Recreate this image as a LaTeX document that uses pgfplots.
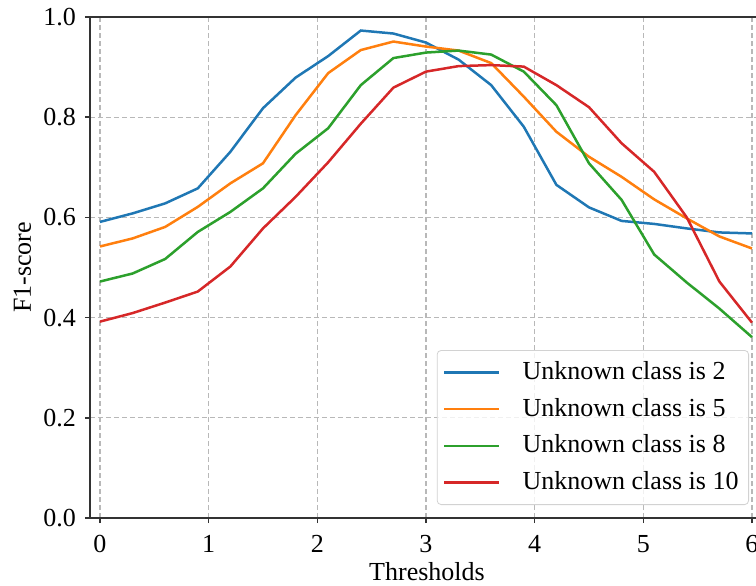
\documentclass[border=0pt]{standalone}
\usepackage{fontspec}
\setmainfont{Liberation Serif}
\usepackage{pgfplots}
\pgfplotsset{compat=1.18}

\definecolor{tabblue}{HTML}{1F77B4}
\definecolor{taborange}{HTML}{FF7F0E}
\definecolor{tabgreen}{HTML}{2CA02C}
\definecolor{tabred}{HTML}{D62728}
\definecolor{gridgray}{HTML}{B8B8B8}
\definecolor{spine}{HTML}{333333}

\begin{document}
\fontsize{13}{15.6}\selectfont
\begin{tikzpicture}
\begin{axis}[
  scale only axis,
  width=333pt, height=250.5pt,
  xmin=-0.092, xmax=6.037,
  ymin=0, ymax=1,
  axis x line*=box, axis y line*=left,
  axis line style={spine, line width=0.8pt},
  xtick={0,1,2,3,4,5,6},
  ytick={0,0.2,0.4,0.6,0.8,1.0},
  yticklabel style={/pgf/number format/fixed, /pgf/number format/precision=1, /pgf/number format/fixed zerofill},
  /pgf/number format/assume math mode=true,
  tick align=outside, tick pos=left,
  major tick length=2.5pt,
  every tick/.style={spine, line width=0.8pt},
  ticklabel style={font=\fontsize{13}{15.6}\selectfont},
  xticklabel style={yshift=-1.5pt},
  grid=major,
  major grid style={gridgray, line width=0.6pt, dash pattern=on 2.5pt off 1.5pt},
  xlabel={Thresholds}, ylabel={F1-score},
  label style={font=\fontsize{13}{15.6}\selectfont},
  xlabel style={at={(axis description cs:0.506,-0.106)}, anchor=center},
  ylabel style={at={(axis description cs:-0.1014,0.5)}, anchor=center, rotate=0},
  legend style={at={(rel axis cs:1,0)}, anchor=south east, xshift=-3.5pt, yshift=6.5pt,
    draw=gray!35, rounded corners=2pt, fill=white, fill opacity=0.8, text opacity=1,
    font=\fontsize{13}{15.6}\selectfont, inner xsep=3pt, inner ysep=3.5pt,
    row sep=3.4pt,
    /tikz/every odd column/.append style={column sep=9pt}},
  legend cell align=left,
  legend image code/.code={\draw[#1] (0pt,0pt) -- (27.5pt,0pt);},
  every axis plot/.append style={line width=1.25pt},
]
\coordinate (sw) at (rel axis cs:0,0);
\coordinate (ne) at (rel axis cs:1,1);

\addplot[tabblue] coordinates {
 (0,0.591) (0.3,0.608) (0.6,0.628) (0.9,0.658) (1.2,0.731) (1.5,0.818)
 (1.8,0.879) (2.1,0.922) (2.4,0.973) (2.7,0.967) (3.0,0.949) (3.3,0.915)
 (3.6,0.864) (3.9,0.781) (4.2,0.665) (4.5,0.620) (4.8,0.593) (5.1,0.587)
 (5.4,0.578) (5.7,0.570) (6.0,0.568)};
\addlegendentry{Unknown class is 2}

\addplot[taborange] coordinates {
 (0,0.542) (0.3,0.558) (0.6,0.581) (0.9,0.621) (1.2,0.668) (1.5,0.708)
 (1.8,0.804) (2.1,0.888) (2.4,0.934) (2.7,0.951) (3.0,0.941) (3.3,0.933)
 (3.6,0.908) (3.9,0.841) (4.2,0.771) (4.5,0.721) (4.8,0.681) (5.1,0.636)
 (5.4,0.598) (5.7,0.562) (6.0,0.538)};
\addlegendentry{Unknown class is 5}

\addplot[tabgreen] coordinates {
 (0,0.472) (0.3,0.488) (0.6,0.517) (0.9,0.571) (1.2,0.611) (1.5,0.658)
 (1.8,0.727) (2.1,0.778) (2.4,0.864) (2.7,0.918) (3.0,0.929) (3.3,0.933)
 (3.6,0.925) (3.9,0.891) (4.2,0.824) (4.5,0.708) (4.8,0.635) (5.1,0.526)
 (5.4,0.470) (5.7,0.418) (6.0,0.361)};
\addlegendentry{Unknown class is 8}

\addplot[tabred] coordinates {
 (0,0.392) (0.3,0.409) (0.6,0.430) (0.9,0.452) (1.2,0.502) (1.5,0.578)
 (1.8,0.641) (2.1,0.710) (2.4,0.787) (2.7,0.859) (3.0,0.891) (3.3,0.902)
 (3.6,0.904) (3.9,0.901) (4.2,0.864) (4.5,0.820) (4.8,0.748) (5.1,0.691)
 (5.4,0.600) (5.7,0.472) (6.0,0.390)};
\addlegendentry{Unknown class is 10}
\end{axis}
\pgfresetboundingbox
\path[use as bounding box] ([shift={(-45pt,-33.5pt)}]sw) rectangle ([shift={(0pt,8.5pt)}]ne);
\end{tikzpicture}
\end{document}
